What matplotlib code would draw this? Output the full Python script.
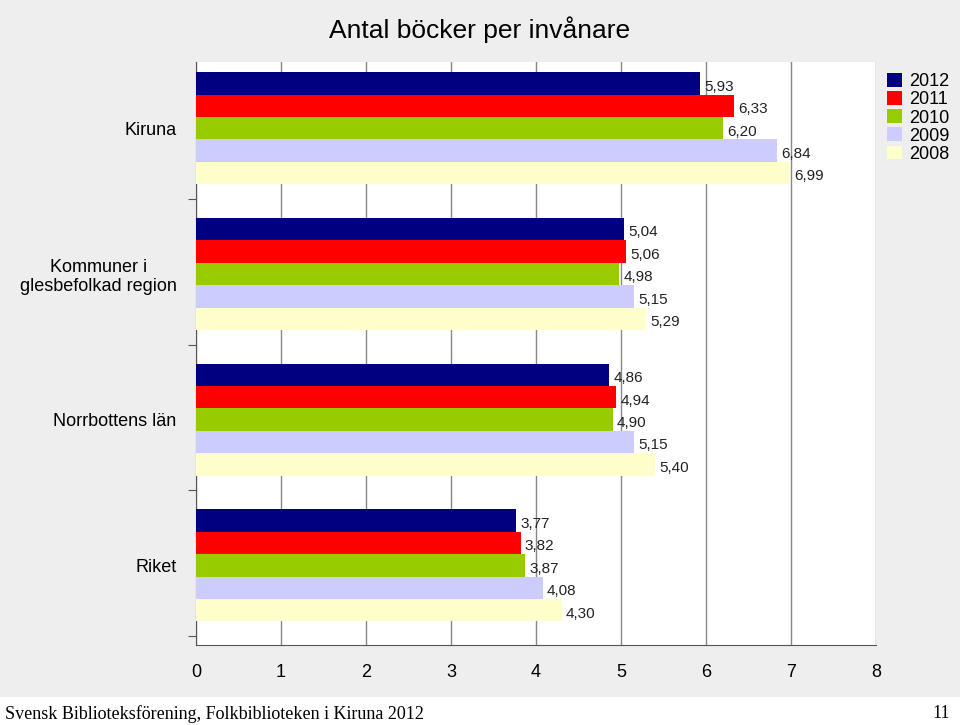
import matplotlib
matplotlib.use("Agg")
import matplotlib.pyplot as plt
from matplotlib.patches import Rectangle

plt.rcParams["font.family"] = "Liberation Sans"

categories = ["Kiruna", "Kommuner i\nglesbefolkad region", "Norrbottens län", "Riket"]
years = ["2012", "2011", "2010", "2009", "2008"]
values = {
    "2012": [5.93, 5.04, 4.86, 3.77],
    "2011": [6.33, 5.06, 4.94, 3.82],
    "2010": [6.20, 4.98, 4.90, 3.87],
    "2009": [6.84, 5.15, 5.15, 4.08],
    "2008": [6.99, 5.29, 5.40, 4.30],
}
colors = ["#000080", "#ff0000", "#99cc00", "#ccccff", "#ffffcc"]

fig = plt.figure(figsize=(9.6, 7.25), dpi=100)
fig.patch.set_facecolor("#eeeeee")
ax = fig.add_axes([196/960, 1-645/725, 680/960, (645-62)/725])
ax.set_facecolor("white")

span = 6.5
for gi, cat in enumerate(categories):
    for j, y in enumerate(years):
        v = values[y][gi]
        yc = gi*span + 0.45 + j + 0.5
        ax.barh(yc, v, height=1.0, color=colors[j], edgecolor="none", zorder=3,
                label=y if gi == 0 else None)
        ax.text(v + 0.05, yc + 0.15, f"{v:.2f}".replace(".", ","), va="center",
                ha="left", fontsize=11, color="#222222", zorder=4)

ax.set_xlim(0, 8)
ax.set_ylim(4*span, 0)
ax.set_xticks(range(9))
ax.tick_params(axis="x", length=0, labelsize=13, pad=14)
ax.set_yticks([span*(i+1) - 0.4 for i in range(4)])
ax.set_yticklabels([])
ax.tick_params(axis="y", length=6, direction="out", color="#555555")
ax.set_yticks([gi*span + 2.95 for gi in range(4)], minor=True)
ax.set_yticklabels(categories, minor=True, fontsize=13, ha="right", multialignment="center")
ax.tick_params(axis="y", which="minor", length=0, pad=14)
ax.grid(axis="x", color="#888888", linewidth=1, zorder=0)
for s in ["top", "right"]:
    ax.spines[s].set_visible(False)
ax.spines["left"].set_color("#555555")
ax.spines["bottom"].set_color("#555555")

fig.text(480/960, 1-30/725, "Antal böcker per invånare", ha="center", va="center", fontsize=19)
fig.legend(loc="upper left", bbox_to_anchor=(880/960, 1-66/725), frameon=False,
           fontsize=13, handlelength=0.8, handleheight=0.8, handletextpad=0.4,
           labelspacing=0.05, borderaxespad=0)

fig.patches.append(Rectangle((0, 0), 1, 28/725, transform=fig.transFigure,
                             facecolor="white", edgecolor="none"))
fig.text(5/960, 11/725, "Svensk Biblioteksförening, Folkbiblioteken i Kiruna 2012",
         fontfamily="Liberation Serif", fontsize=13, va="center")
fig.text(950/960, 11/725, "11", fontfamily="Liberation Serif", fontsize=13,
         va="center", ha="right")

fig.savefig("out.png", dpi=100, facecolor=fig.get_facecolor())
